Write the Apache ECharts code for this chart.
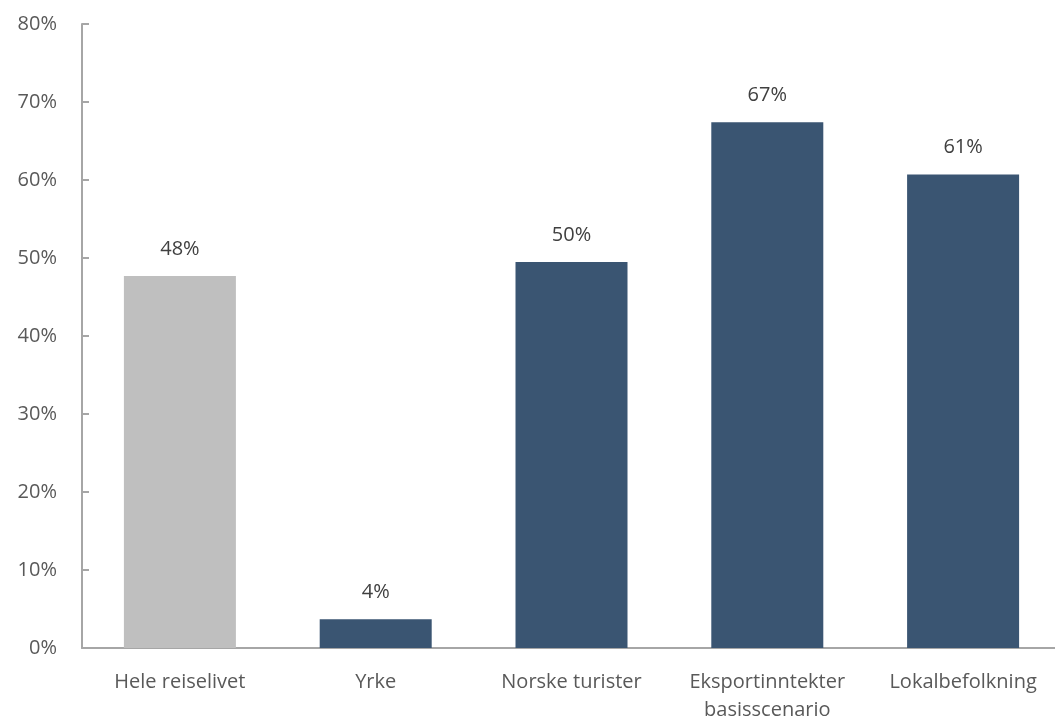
<!DOCTYPE html>
<html><head><meta charset="utf-8">
<script src="https://cdn.jsdelivr.net/npm/echarts@6/dist/echarts.min.js"></script>
<style>html,body{margin:0;padding:0;background:#fff}#c{width:1055px;height:719px}</style>
</head><body><div id="c"></div>
<script>
var categories = ['Hele reiselivet', 'Yrke', 'Norske turister', 'Eksportinntekter\nbasisscenario', 'Lokalbefolkning'];
var values = [47.7, 3.7, 49.5, 67.4, 60.7];
var barColors = ['#BFBFBF', '#3A5572', '#3A5572', '#3A5572', '#3A5572'];
var yTicks = [0, 10, 20, 30, 40, 50, 60, 70, 80];

var chart = echarts.init(document.getElementById('c'));
var font = '"Open Sans", "Liberation Sans", sans-serif';
chart.setOption({
  animation: false,
  grid: { left: 82, top: 24, width: 979, height: 624, containLabel: false, outerBoundsMode: 'none' },
  xAxis: {
    type: 'category',
    data: categories,
    axisLine: { lineStyle: { color: '#A6A6A6', width: 2 } },
    axisTick: { show: false },
    axisLabel: { color: '#595959', fontSize: 20, fontFamily: font, margin: 20, lineHeight: 28, interval: 0 }
  },
  yAxis: {
    type: 'value',
    min: yTicks[0], max: yTicks[yTicks.length - 1], interval: 10,
    splitLine: { show: false },
    axisLine: { show: true, lineStyle: { color: '#A6A6A6', width: 2 } },
    axisTick: { show: true, inside: true, length: 7, lineStyle: { color: '#A6A6A6', width: 2 } },
    axisLabel: { color: '#595959', fontSize: 20, fontFamily: font, margin: 25, formatter: '{value}%' }
  },
  series: [{
    type: 'bar',
    barWidth: 112,
    data: values.map(function (v, i) { return { value: v, itemStyle: { color: barColors[i] } }; }),
    label: {
      show: true, position: 'top', distance: 17,
      color: '#404040', fontSize: 20, fontFamily: font,
      formatter: function (p) { return Math.round(p.value) + '%'; }
    }
  }]
});
</script></body></html>
